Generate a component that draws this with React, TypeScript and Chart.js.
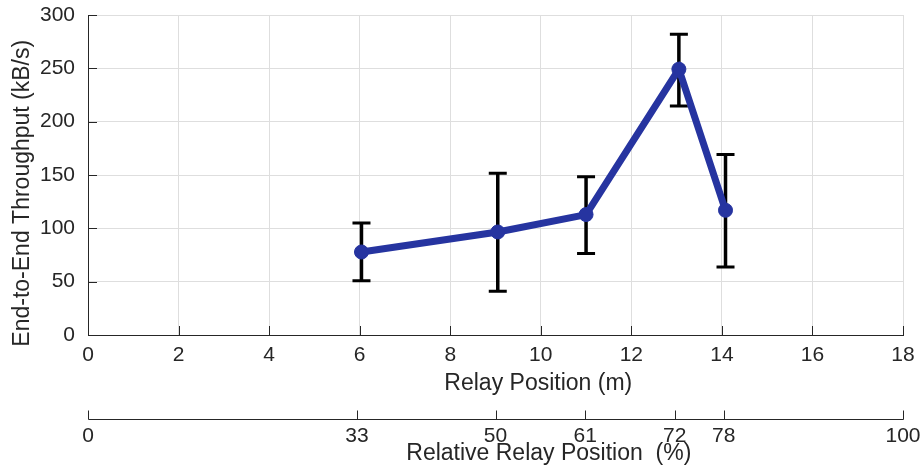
import React, { useEffect, useRef } from 'react';
import { Chart, registerables } from 'chart.js';

Chart.register(...registerables);

// ---- data ----
const relayPositions = [6.04, 9.05, 11.0, 13.05, 14.08]; // m
const throughput = [77.8, 96.6, 112.9, 249.2, 116.9]; // kB/s
const errLow = [50.8, 41.1, 76.5, 214.7, 63.7];
const errHigh = [105, 151.7, 148.3, 282, 169.3];
const relativeTicks = [0, 33, 50, 61, 72, 78, 100]; // %
const xTitle = 'Relay Position (m)';
const x2Title = 'Relative Relay Position  (%)';
const yTitle = 'End-to-End Throughput (kB/s)';

const FONT = '"Liberation Sans", Arial, Helvetica, sans-serif';
const INK = '#262626';
const GRID = '#dedede';
const BLUE = '#2634a0';

const overlay = {
  id: 'overlay',
  beforeDatasetsDraw(chart: any) {
    const { ctx } = chart;
    const xs = chart.scales.x;
    const ys = chart.scales.y;
    ctx.save();
    ctx.strokeStyle = '#000000';
    ctx.lineCap = 'butt';
    relayPositions.forEach((xv, i) => {
      const px = xs.getPixelForValue(xv);
      const lo = ys.getPixelForValue(errLow[i]);
      const hi = ys.getPixelForValue(errHigh[i]);
      ctx.lineWidth = 3.5;
      ctx.beginPath();
      ctx.moveTo(px, lo);
      ctx.lineTo(px, hi);
      ctx.stroke();
      ctx.lineWidth = 3;
      ctx.beginPath();
      ctx.moveTo(px - 9, lo);
      ctx.lineTo(px + 9, lo);
      ctx.moveTo(px - 9, hi);
      ctx.lineTo(px + 9, hi);
      ctx.stroke();
    });
    ctx.restore();
  },
  afterDraw(chart: any) {
    const { ctx, chartArea: ca } = chart;
    const xs = chart.scales.x;
    const ys = chart.scales.y;
    const x2 = chart.scales.x2;
    ctx.save();
    ctx.strokeStyle = INK;
    ctx.lineWidth = 1;
    ctx.beginPath();
    // inward tick marks on main axes
    xs.ticks.forEach((t: any) => {
      const px = Math.round(xs.getPixelForValue(t.value)) + 0.5;
      ctx.moveTo(px, ca.bottom);
      ctx.lineTo(px, ca.bottom - 9);
    });
    ys.ticks.forEach((t: any) => {
      const py = Math.round(ys.getPixelForValue(t.value)) + 0.5;
      ctx.moveTo(ca.left, py);
      ctx.lineTo(ca.left + 9, py);
    });
    // secondary axis line + ticks
    const ay = Math.round(x2.top + 14) + 0.5;
    const x0 = Math.round(x2.getPixelForValue(0)) + 0.5;
    const x1 = Math.round(x2.getPixelForValue(100)) + 0.5;
    ctx.moveTo(x0, ay);
    ctx.lineTo(x1, ay);
    x2.ticks.forEach((t: any) => {
      const px = Math.round(x2.getPixelForValue(t.value)) + 0.5;
      ctx.moveTo(px, ay);
      ctx.lineTo(px, ay - 9);
    });
    ctx.stroke();

    // axis titles
    const w = ca.right - ca.left;
    const h = ca.bottom - ca.top;
    ctx.fillStyle = INK;
    ctx.font = `23px ${FONT}`;
    ctx.textAlign = 'center';
    ctx.textBaseline = 'alphabetic';
    ctx.fillText(xTitle, ca.left + w * 0.5525, ca.bottom + 55);
    ctx.fillText(x2Title, ca.left + w * 0.5654, ca.bottom + 125);
    ctx.save();
    ctx.translate(ca.left - 59.5, ca.top + h * 0.557);
    ctx.rotate(-Math.PI / 2);
    ctx.fillText(yTitle, 0, 0);
    ctx.restore();
    ctx.restore();
  },
};

function zeroPad(s: any) {
  s.paddingLeft = 0;
  s.paddingRight = 0;
  s.paddingTop = 0;
  s.paddingBottom = 0;
}

export default function App() {
  const ref = useRef<HTMLCanvasElement | null>(null);
  useEffect(() => {
    document.body.style.margin = '0';
    if (!ref.current) return;
    Chart.defaults.font.family = FONT;
    const chart = new Chart(ref.current, {
      type: 'line',
      data: {
        datasets: [
          {
            data: relayPositions.map((x, i) => ({ x, y: throughput[i] })),
            borderColor: BLUE,
            backgroundColor: BLUE,
            borderWidth: 7,
            pointRadius: 7,
            pointBorderWidth: 1,
            pointBackgroundColor: BLUE,
            pointBorderColor: BLUE,
            tension: 0,
          },
        ],
      },
      options: {
        responsive: false,
        animation: false,
        layout: { padding: { left: 0, right: 17, top: 15, bottom: 0 } },
        plugins: { legend: { display: false }, tooltip: { enabled: false } },
        scales: {
          x: {
            type: 'linear',
            position: 'bottom',
            weight: 0,
            min: 0,
            max: 18,
            ticks: { stepSize: 2, font: { size: 21 }, color: INK, padding: 7.4, maxRotation: 0 },
            grid: { color: GRID, lineWidth: 1, drawTicks: false },
            border: { display: true, color: INK, width: 1 },
            afterFit: (s: any) => {
              s.height = 70;
              zeroPad(s);
            },
          },
          x2: {
            type: 'linear',
            position: 'bottom',
            weight: 1,
            min: 0,
            max: 100,
            afterBuildTicks: (s: any) => {
              s.ticks = relativeTicks.map((v) => ({ value: v }));
            },
            ticks: { font: { size: 21 }, color: INK, padding: 18.4, maxRotation: 0, autoSkip: false },
            grid: { display: false, drawTicks: false },
            border: { display: false },
            afterFit: (s: any) => {
              s.height = 65;
              zeroPad(s);
            },
          },
          y: {
            type: 'linear',
            position: 'left',
            min: 0,
            max: 300,
            ticks: { stepSize: 50, font: { size: 21 }, color: INK, padding: 13 },
            grid: { color: GRID, lineWidth: 1, drawTicks: false },
            border: { display: true, color: INK, width: 1 },
            afterFit: (s: any) => {
              s.width = 88;
              zeroPad(s);
            },
          },
        },
      },
      plugins: [overlay],
    });
    return () => chart.destroy();
  }, []);
  return (
    <div style={{ width: 920, height: 470 }}>
      <canvas ref={ref} width={920} height={470} style={{ display: 'block' }} />
    </div>
  );
}
